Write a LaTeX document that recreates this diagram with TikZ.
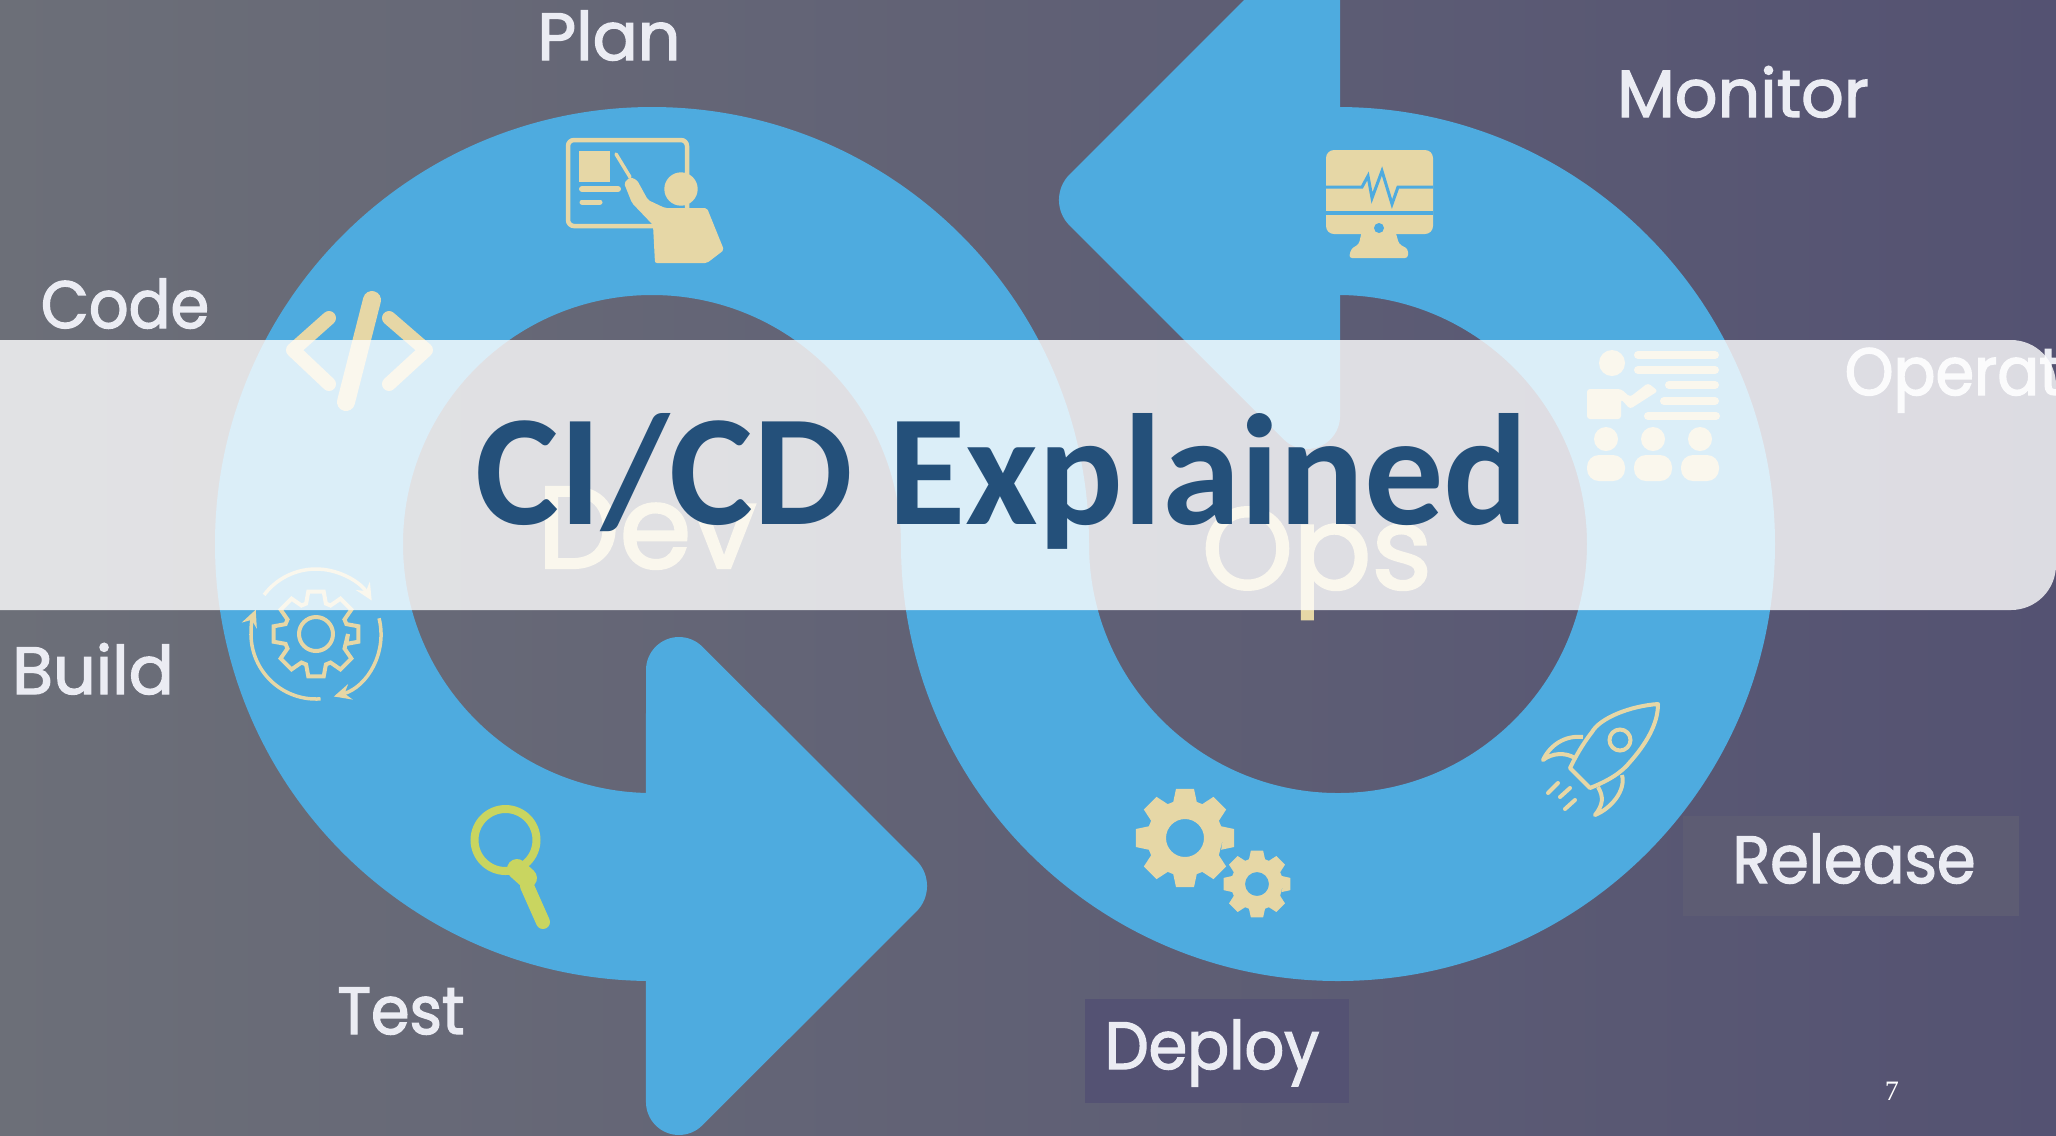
\documentclass[tikz,border=0pt]{standalone}
\usepackage{fontspec}
\usetikzlibrary{arrows.meta}
\newfontfamily\labelfont{Poppins}[FakeBold=2]
\newfontfamily\narrowfont{Poppins}[FakeBold=2,FakeStretch=0.93]
\newfontfamily\titlefont{Carlito}
\newfontfamily\pagefont{Liberation Serif}
\definecolor{bandblue}{HTML}{4EABDF}
\definecolor{iconcream}{HTML}{E6D7A6}
\definecolor{lenslime}{HTML}{C9D560}
\definecolor{labelwhite}{HTML}{EBECF3}
\definecolor{titleblue}{HTML}{24507A}
\definecolor{bgleft}{RGB}{108,111,120}
\definecolor{bgmiddle}{RGB}{96,96,116}
\definecolor{bgright}{RGB}{84,82,114}
\definecolor{deployfill}{RGB}{84,82,115}
\definecolor{releasefill}{RGB}{93,92,115}
\tikzstyle{steplabel}=[inner sep=0pt,anchor=base,text=labelwhite,font=\labelfont\fontsize{19}{19}\selectfont]
\tikzstyle{narrowlabel}=[steplabel,font=\narrowfont\fontsize{19}{19}\selectfont]
\tikzstyle{biglabel}=[inner sep=0pt,anchor=base,text=iconcream,font=\labelfont\fontsize{33}{33}\selectfont]
\tikzstyle{labelbox}=[inner sep=0pt]
\tikzstyle{iconline}=[draw=iconcream,line width=0.04cm]
\tikzstyle{iconfill}=[fill=iconcream]
\tikzstyle{listbar}=[draw=iconcream,line width=0.08cm,line cap=round]
\tikzstyle{turnarrow}=[iconline,line width=0.035cm,arrows={-Stealth[length=0.17cm,width=0.16cm,inset=0.06cm]}]
\newcommand{\gearicon}[7]{%
    \pgfmathsetmacro{\gearstep}{360/#5}
    \path[shift={(#1,#2)},#7]
        (0:#4)
        \foreach \t [evaluate=\t as \a using \t*\gearstep] in {1,...,#5} {
            -- (\a-0.40*\gearstep:#4) -- (\a-0.23*\gearstep:#3)
            -- (\a+0.23*\gearstep:#3) -- (\a+0.40*\gearstep:#4)
        } -- cycle
        (0:#6) arc[start angle=0,end angle=360,radius=#6];
}
\begin{document}
\begin{tikzpicture}[x=0.01cm,y=0.01cm,yscale=-1]
    \clip (0,0) rectangle (2056,1135);
    \shade[left color=bgleft,middle color=bgmiddle,right color=bgright] (0,0) rectangle (2056,1135);

    \fill[bandblue] (652,981) arc[start angle=90,end angle=360,radius=437]
        arc[start angle=180,end angle=-90,radius=249] -- (1338,107)
        arc[start angle=-90,end angle=180,radius=437]
        arc[start angle=0,end angle=-270,radius=249] -- cycle;
    \fill[bandblue] (646,670) arc[start angle=180,end angle=315,radius=33] -- (916.5,860.5)
        arc[start angle=-45,end angle=45,radius=36] -- (702.3,1125.3)
        arc[start angle=45,end angle=180,radius=33] -- cycle;
    \fill[bandblue] (1340,-96) -- (1069.5,174.5) arc[start angle=225,end angle=135,radius=36]
        -- (1283.7,439.3) arc[start angle=135,end angle=0,radius=33] -- cycle;

    \draw[iconline,line width=0.045cm,rounded corners=0.06cm] (568,140) rectangle (687,226);
    \fill[iconfill] (579,151) rectangle (610,182);
    \draw[listbar,line width=0.06cm] (582,189) -- (618,189);
    \draw[listbar,line width=0.05cm] (582,202) -- (600,202);
    \draw[iconline,line width=0.035cm,line cap=round] (616,154) -- (630,177);
    \fill[iconfill] (681,189) circle[radius=16.7];
    \fill[iconfill,rounded corners=0.02cm] (630,177) -- (624,183) -- (632,203) -- (653,225) -- (655,263) -- (707,263) -- (724,250) -- (707,208) -- (665,208) -- (648,200) -- (637,180) -- cycle;

    \draw[iconcream,line width=0.14cm,line cap=round,line join=round] (329,318) -- (293,350) -- (329,384);
    \draw[iconcream,line width=0.14cm,line cap=round,line join=round] (389,318) -- (426,350) -- (389,384);
    \draw[iconcream,line width=0.18cm,line cap=round] (372,300) -- (346,402);

    \gearicon{316}{634}{43}{32}{8}{17}{iconline}
    \draw[turnarrow] (316,634) ++(217:65) arc[start angle=217,end angle=329,radius=65];
    \draw[turnarrow] (316,634) ++(-14:65) arc[start angle=-14,end angle=74,radius=65];
    \draw[turnarrow] (316,634) ++(86:65) arc[start angle=86,end angle=202,radius=65];

    \draw[lenslime,line width=0.08cm] (505.5,840) circle[radius=31];
    \draw[lenslime,line width=0.2cm,line cap=round] (517,869) -- (527,878);
    \draw[lenslime,line width=0.14cm,line cap=round] (527,886) -- (543,922);

    \fill[iconfill,rounded corners=0.08cm] (1326,150) rectangle (1433,234);
    \fill[iconfill,rounded corners=0.03cm] (1362,230) -- (1395,230) -- (1399,244) -- (1408,249) -- (1408,258) -- (1349,258) -- (1351,249) -- (1359,244) -- cycle;
    \draw[bandblue,line width=0.03cm] (1326,187) -- (1362,187) -- (1368,176) -- (1372,198) -- (1382,171) -- (1392,204) -- (1398,187) -- (1433,187);
    \draw[bandblue,line width=0.04cm] (1326,213) -- (1433,213);
    \fill[bandblue] (1379,228) circle[radius=5];

    \fill[iconfill] (1612,363) circle[radius=13];
    \fill[iconfill,rounded corners=0.03cm] (1587,389) -- (1621,389) -- (1630,397) -- (1648,383) -- (1658,391) -- (1630,409) -- (1621,399) -- (1621,419) -- (1587,419) -- cycle;
    \draw[listbar] (1638,355) -- (1715,355);
    \draw[listbar] (1638,370) -- (1715,370);
    \draw[listbar] (1669,385) -- (1715,385);
    \draw[listbar] (1664,401) -- (1715,401);
    \draw[listbar] (1648,416) -- (1716,416);
    \foreach \headx in {1606,1653,1700} {
        \fill[iconfill] (\headx,439) circle[radius=12];
        \fill[iconfill,rounded corners=0.12cm] (\headx-19,481) -- (\headx-19,455) -- (\headx+19,455) -- (\headx+19,481) -- cycle;
    }

    \gearicon{1185}{838}{50}{38}{8}{19}{iconfill,even odd rule}
    \gearicon{1257}{884}{34}{26}{8}{12}{iconfill,even odd rule}

    \draw[iconline,line join=round] (1658,704) .. controls (1630,706) and (1600,718) .. (1592,732) .. controls (1582,745) and (1576,756) .. (1570,768) -- (1590,788) .. controls (1610,780) and (1622,772) .. (1630,762) .. controls (1645,745) and (1658,725) .. cycle;
    \draw[iconline,line join=round] (1583,737) .. controls (1565,735) and (1550,745) .. (1543,760) .. controls (1552,753) and (1565,752) .. (1575,758);
    \draw[iconline,line join=round] (1622,775) .. controls (1626,790) and (1612,808) .. (1595,815) .. controls (1603,805) and (1604,797) .. (1598,787);
    \draw[iconline] (1620,740) circle[radius=10.5];
    \draw[iconline,line cap=round] (1558,783) -- (1548,793);
    \draw[iconline,line cap=round] (1570,788) -- (1560,797);
    \draw[iconline,line cap=round] (1575,800) -- (1565,809);

    \node[labelbox,fill=deployfill,minimum width=2.63cm,minimum height=1.03cm] (deploybox) at (1217,1051) {};
    \node[labelbox,fill=releasefill,minimum width=3.35cm,minimum height=0.99cm] (releasebox) at (1851,866) {};

    \node[steplabel] (plan) at (609,60) {Plan};
    \node[narrowlabel] (code) at (125,328) {Code};
    \node[steplabel] (build) at (93,694) {Build};
    \node[narrowlabel] (test) at (401,1034) {Test};
    \node[narrowlabel] (deploy) at (1212,1069) {Deploy};
    \node[narrowlabel] (release) at (1854,883) {Release};
    \node[narrowlabel,anchor=base west] (operate) at (1844,395) {Operate};
    \node[steplabel] (monitor) at (1743,117) {Monitor};
    \node[biglabel] (dev) at (647,568) {Dev};
    \node[biglabel] (ops) at (1317,589) {Ops};

    \fill[white,opacity=0.8,rounded corners=0.45cm] (-100,340) rectangle (2056,610);

    \node[inner sep=0pt,anchor=base,text=titleblue,font=\titlefont\bfseries\fontsize{45}{45}\selectfont] (title) at (1002,524) {CI/CD Explained};
    \node[inner sep=0pt,anchor=base,text=white,font=\pagefont\fontsize{8}{8}\selectfont] (pagenum) at (1892,1100) {7};
\end{tikzpicture}
\end{document}
